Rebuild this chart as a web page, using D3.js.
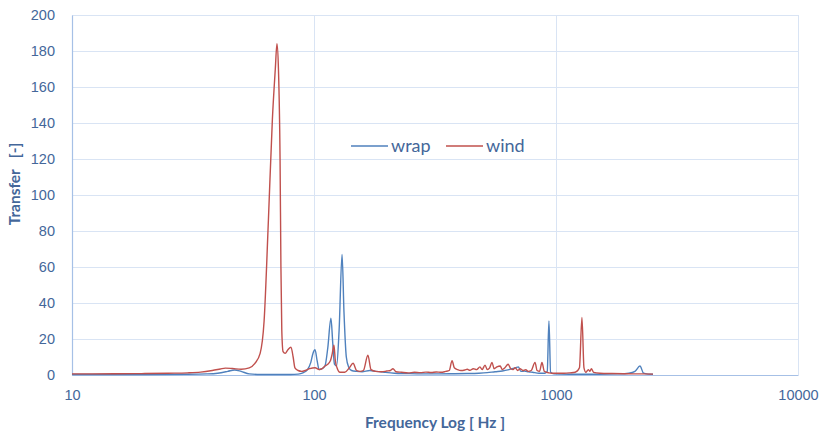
<!DOCTYPE html>
<html>
<head>
<meta charset="utf-8">
<script src="https://cdn.jsdelivr.net/npm/d3@7"></script>
<style>
  body { margin: 0; background: #fff; }
  svg { display: block; font-family: Lato, "Open Sans", sans-serif; }
</style>
</head>
<body>
<svg id="chart" width="823" height="435"></svg>
<script>
'use strict'
// values (frequency in Hz, transfer [-])
var wrapFreq = [10, 20, 30, 36, 40, 44, 47, 50, 54, 60, 70, 80, 86, 90, 94, 97, 99, 101, 103, 105, 108, 111, 114, 117.5, 119.5, 121.5, 124, 127, 130.6, 133, 136, 139, 143, 150, 158, 170, 180, 195, 215, 240, 280, 330, 380, 430, 480, 520, 560, 600, 640, 680, 700, 715, 740, 770, 800, 850, 900, 920, 935, 950, 980, 1050, 1200, 1500, 1800, 2000, 2120, 2223, 2300, 2400, 2517];
var wrapVal  = [0.3, 0.3, 0.4, 0.6, 1.0, 2.0, 2.8, 2.0, 0.6, 0.3, 0.3, 0.3, 0.5, 1.2, 3.0, 7.0, 12, 14, 8.0, 3.0, 3.5, 5.0, 15, 31.5, 18, 6.0, 5.0, 25, 67, 35, 10, 4.5, 2.5, 2.0, 1.8, 2.5, 2.0, 1.5, 1.0, 0.8, 0.6, 0.6, 0.7, 0.8, 1.0, 1.3, 1.8, 2.2, 3.0, 4.0, 4.5, 2.0, 2.2, 1.8, 1.5, 1.0, 1.0, 2.0, 30, 1.5, 0.6, 0.5, 0.4, 0.4, 0.6, 1.0, 2.0, 5.0, 1.0, 0.5, 0.4];

var windFreq = [10, 15, 20, 25, 30, 34, 38, 41, 43, 46, 50, 54, 57, 59.9, 62.2, 64.8, 67.3, 69.2, 70.3, 71.3, 72.4, 73, 73.6, 74.5, 76, 78, 80.3, 82, 83.4, 86, 89, 92, 96, 101, 105, 108, 111, 114, 117, 119, 120.9, 122.5, 124.5, 128, 134, 140, 145, 150, 155, 160, 167, 172, 180, 190, 200, 207, 212, 218, 230, 245, 260, 275, 290, 305, 320, 335, 350, 362, 372, 380, 392, 405, 420, 430, 441, 455, 470, 485, 495, 509, 520, 532, 544, 555, 570, 588, 600, 615, 634, 650, 665, 678, 695, 710, 730, 750, 767, 790, 819, 835, 855, 875, 895, 935, 962, 1000, 1080, 1143, 1200, 1250, 1280, 1305, 1330, 1360, 1381, 1400, 1430, 1520, 1700, 1900, 2100, 2300, 2517];
var windVal  = [0.6, 0.7, 0.8, 1.0, 1.2, 1.6, 2.5, 3.3, 3.8, 3.6, 3.2, 4.0, 6.5, 12, 30, 86, 142, 170, 184, 170, 120, 60, 25, 13, 12, 14, 15.5, 10, 4.0, 2.5, 2.0, 2.5, 3.5, 4.0, 3.0, 3.5, 5.0, 6.0, 8.0, 12, 16.5, 8.0, 4.0, 1.5, 1.5, 4.0, 6.5, 2.5, 2.0, 2.5, 11, 3.0, 2.0, 1.8, 2.2, 2.5, 3.5, 1.8, 1.5, 1.2, 1.5, 1.3, 1.6, 1.4, 1.7, 1.5, 2.0, 2.5, 8.0, 4.0, 3.0, 2.5, 2.8, 3.2, 2.6, 3.5, 3.0, 4.5, 3.0, 5.5, 3.0, 4.0, 7.0, 3.5, 4.5, 5.0, 3.0, 4.0, 6.0, 3.5, 3.0, 4.0, 2.5, 3.5, 2.5, 3.0, 2.0, 2.5, 7.0, 2.5, 2.0, 7.0, 2.0, 1.2, 1.0, 1.0, 1.0, 1.2, 1.5, 4.0, 32, 4.0, 1.5, 3.0, 2.0, 3.5, 1.5, 1.0, 0.8, 0.7, 0.6, 0.6, 0.5];

var yTicks = [0, 20, 40, 60, 80, 100, 120, 140, 160, 180, 200];
var xTicks = [10, 100, 1000, 10000];
var seriesNames = ['wrap', 'wind'];

// layout
var svg = d3.select('#chart');
var plotLeft = 72, plotRight = 798, plotTop = 15, plotBottom = 375;
var textColor = '#44679a';
var gridColor = '#d9e4f4';
var colors = { wrap: '#4f81bd', wind: '#c0504d' };

var x = d3.scaleLog().domain([10, 10000]).range([plotLeft, plotRight]);
var y = d3.scaleLinear().domain([0, 200]).range([plotBottom, plotTop]);

// horizontal grid
svg.append('g').selectAll('line').data(yTicks).enter().append('line')
	.attr('x1', plotLeft).attr('x2', plotRight)
	.attr('y1', function(d){ return y(d) + 0.5; })
	.attr('y2', function(d){ return y(d) + 0.5; })
	.attr('stroke', gridColor).attr('stroke-width', 1);

// vertical grid (decades only)
svg.append('g').selectAll('line').data(xTicks).enter().append('line')
	.attr('x1', function(d){ return Math.round(x(d)) + 0.5; })
	.attr('x2', function(d){ return Math.round(x(d)) + 0.5; })
	.attr('y1', plotTop).attr('y2', plotBottom)
	.attr('stroke', gridColor).attr('stroke-width', 1);

// axes
var yAxis = d3.axisLeft(y).tickValues(yTicks).tickSize(0).tickPadding(17);
var gy = svg.append('g').attr('transform', 'translate(' + plotLeft + ',0)').call(yAxis);
gy.select('.domain').attr('stroke', '#a6c0e6').attr('stroke-width', 1.2);
gy.selectAll('text').attr('fill', textColor).style('font-size', '14.5px');

var xAxis = d3.axisBottom(x).tickValues(xTicks).tickFormat(d3.format('d')).tickSize(0).tickPadding(15);
var gx = svg.append('g').attr('transform', 'translate(0,' + plotBottom + ')').call(xAxis);
gx.select('.domain').attr('stroke', '#a6c0e6').attr('stroke-width', 1.2);
gx.selectAll('text').attr('fill', textColor).style('font-size', '14.5px');

// series
var line = d3.line()
	.x(function(d){ return x(d[0]); })
	.y(function(d){ return y(d[1]); })
	.curve(d3.curveMonotoneX);

var wrapData = d3.zip(wrapFreq, wrapVal);
var windData = d3.zip(windFreq, windVal);

svg.append('path').datum(wrapData)
	.attr('fill', 'none').attr('stroke', colors.wrap).attr('stroke-width', 1.4)
	.attr('d', line);
svg.append('path').datum(windData)
	.attr('fill', 'none').attr('stroke', colors.wind).attr('stroke-width', 1.4)
	.attr('d', line);

// legend
var legendPos = { wrap: 351, wind: 446 };
seriesNames.forEach(function(name){
	var lx = legendPos[name];
	svg.append('line')
		.attr('x1', lx).attr('x2', lx + 37)
		.attr('y1', 146).attr('y2', 146)
		.attr('stroke', colors[name]).attr('stroke-width', 1.5);
	svg.append('text')
		.attr('x', lx + 40).attr('y', 152)
		.attr('fill', textColor).style('font-size', '18px')
		.text(name);
});

// axis titles
svg.append('text')
	.attr('transform', 'translate(20,' + 184 + ') rotate(-90)')
	.attr('text-anchor', 'middle')
	.attr('fill', textColor).style('font-size', '15.5px').style('font-weight', 'bold')
	.style('white-space', 'pre')
	.text('Transfer   [-]');

svg.append('text')
	.attr('x', 435).attr('y', 428)
	.attr('text-anchor', 'middle')
	.attr('fill', textColor).style('font-size', '15.5px').style('font-weight', 'bold')
	.style('white-space', 'pre')
	.text('Frequency Log [ Hz ]');
</script>
</body>
</html>
